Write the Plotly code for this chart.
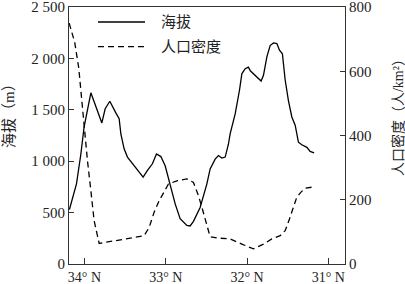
import plotly.graph_objects as go

# Elevation (solid line) — latitude (°N) and elevation (m)
elev_lat = [34.185, 34.098, 34.044, 34.016, 34.004, 33.921, 33.786, 33.745, 33.688, 33.614,
            33.573, 33.552, 33.512, 33.471, 33.410, 33.348, 33.306, 33.278, 33.225, 33.164,
            33.114, 33.060, 33.007, 32.946, 32.884, 32.823, 32.740, 32.700, 32.659, 32.577,
            32.494, 32.454, 32.392, 32.352, 32.310, 32.269, 32.229, 32.208, 32.146, 32.093,
            32.064, 32.023, 31.983, 31.960, 31.921, 31.879, 31.827, 31.798, 31.756, 31.716,
            31.675, 31.633, 31.601, 31.565, 31.531, 31.491, 31.449, 31.408, 31.380, 31.368,
            31.326, 31.264, 31.224, 31.175]
elev_m = [530, 780, 1070, 1265, 1335, 1665, 1372, 1510, 1583, 1470,
          1413, 1265, 1120, 1040, 975, 910, 870, 845, 910, 975,
          1070, 1045, 955, 780, 585, 440, 375, 370, 415, 550,
          780, 925, 1020, 1055, 1030, 1040, 1165, 1265, 1460, 1690,
          1850, 1900, 1915, 1880, 1850, 1820, 1780, 1835, 2015, 2125,
          2150, 2145, 2080, 2045, 1790, 1590, 1430, 1350, 1255, 1185,
          1160, 1135, 1095, 1080]

# Population density (dashed line) — latitude (°N) and persons/km²
pop_lat = [34.188, 34.120, 34.070, 34.030, 34.000, 33.963, 33.921, 33.881, 33.819, 33.656,
           33.450, 33.266, 33.204, 33.143, 33.081, 33.020, 32.967, 32.863, 32.740, 32.659,
           32.598, 32.556, 32.494, 32.454, 32.372, 32.208, 32.064, 31.941, 31.921, 31.798,
           31.695, 31.593, 31.531, 31.478, 31.429, 31.388, 31.339, 31.286, 31.204]
pop_val = [750, 690, 610, 500, 400, 322, 228, 135, 64, 71,
           78, 88, 114, 161, 197, 225, 249, 259, 265, 254,
           213, 177, 125, 85, 81, 78, 62, 49, 47, 62,
           78, 88, 104, 140, 181, 208, 223, 236, 239]

x_tickvals = [34, 33, 32, 31]
x_ticktext = ["34° N", "33° N", "32° N", "31° N"]
y1_tickvals = [0, 500, 1000, 1500, 2000, 2500]
y1_ticktext = ["0", "500", "1 000", "1 500", "2 000", "2 500"]
y2_tickvals = [0, 200, 400, 600, 800]
y2_ticktext = ["0", "200", "400", "600", "800"]

FONT = "Liberation Serif, Noto Sans CJK SC, serif"
AX = "#333333"

fig = go.Figure()
fig.add_trace(go.Scatter(x=elev_lat, y=elev_m, mode="lines", name="海拔",
                         line=dict(color="black", width=1.3), yaxis="y"))
fig.add_trace(go.Scatter(x=pop_lat, y=pop_val, mode="lines", name="人口密度",
                         line=dict(color="black", width=1.3, dash="6px,4px"), yaxis="y2"))

fig.update_layout(
    width=405, height=284,
    margin=dict(l=69, r=60, t=7, b=20, autoexpand=False),
    paper_bgcolor="white", plot_bgcolor="white",
    showlegend=False,
    font=dict(family=FONT, size=15, color="#222"),
    xaxis=dict(range=[34.19, 30.795], autorange=False, tickvals=x_tickvals, ticktext=x_ticktext,
               ticks="inside", ticklen=6, tickcolor=AX, showline=True, linecolor=AX, linewidth=1.2,
               mirror=True, showgrid=False, zeroline=False, tickfont=dict(size=14), automargin=False,
               ticklabeloverflow="allow"),
    yaxis=dict(range=[0, 2500], autorange=False, tickvals=y1_tickvals, ticktext=y1_ticktext,
               ticks="inside", ticklen=5, tickcolor=AX, showline=True, linecolor=AX, linewidth=1.2,
               showgrid=False, zeroline=False, tickfont=dict(size=15), automargin=False,
               ticklabeloverflow="allow"),
    yaxis2=dict(range=[0, 800], autorange=False, tickvals=y2_tickvals, ticktext=y2_ticktext,
                overlaying="y", side="right", ticks="inside", ticklen=5, tickcolor=AX,
                showline=True, linecolor=AX, linewidth=1.2, showgrid=False, zeroline=False,
                tickfont=dict(size=15), automargin=False, ticklabeloverflow="allow"),
)

# Legend drawn in paper coordinates
leg_y = [0.9416, 0.846]
fig.add_shape(type="line", xref="paper", yref="paper", x0=0.105, x1=0.2754, y0=leg_y[0], y1=leg_y[0],
              line=dict(color="black", width=1.3))
fig.add_shape(type="line", xref="paper", yref="paper", x0=0.105, x1=0.2754, y0=leg_y[1], y1=leg_y[1],
              line=dict(color="black", width=1.3, dash="6px,4px"))
fig.add_annotation(xref="paper", yref="paper", x=0.326, y=leg_y[0], text="海拔", showarrow=False,
                   xanchor="left", yanchor="middle", font=dict(size=15))
fig.add_annotation(xref="paper", yref="paper", x=0.326, y=leg_y[1], text="人口密度", showarrow=False,
                   xanchor="left", yanchor="middle", font=dict(size=15))

# Axis titles
fig.add_annotation(xref="paper", yref="paper", x=-0.215, y=0.59, text="海拔（m）", textangle=-90,
                   showarrow=False, xanchor="center", yanchor="middle", font=dict(size=15))
fig.add_annotation(xref="paper", yref="paper", x=1.19, y=0.585, text="人口密度（人/km²）", textangle=-90,
                   showarrow=False, xanchor="center", yanchor="middle", font=dict(size=14))

fig.write_html("out.html")
